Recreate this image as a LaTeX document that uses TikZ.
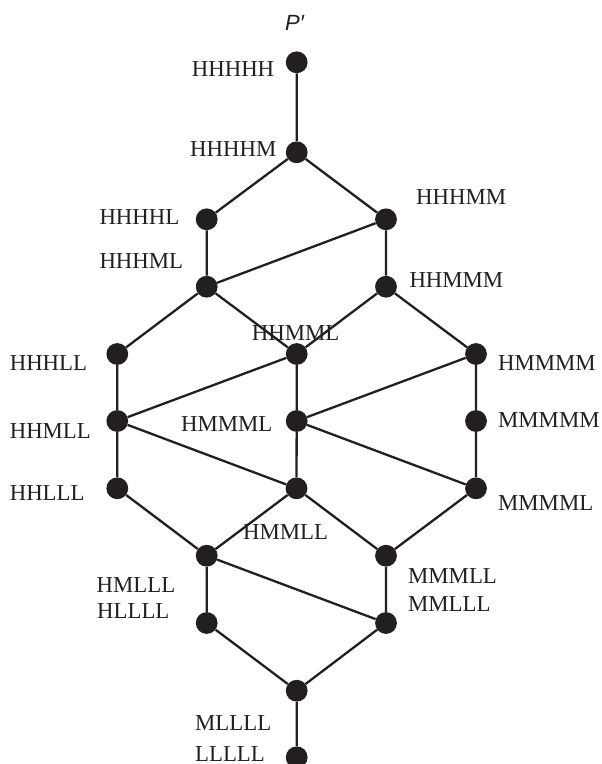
\documentclass[tikz,border=0pt]{standalone}
\usepackage{fontspec}
\setmainfont{Liberation Serif}
\newfontfamily\psans{Liberation Sans}
\definecolor{ink}{HTML}{231F20}
\begin{document}
\begin{tikzpicture}[x=1pt,y=-1pt,
  vtx/.style={circle,fill=ink,draw=none,minimum size=21.8pt,inner sep=0pt},
  lbl/.style={anchor=base west,inner sep=0pt,text=ink,font=\fontsize{22.8}{27}\selectfont},
  edge/.style={draw=ink,line width=2.3pt}]
\useasboundingbox (0,0) rectangle (602,764);
% vertices
\node[vtx] (a) at (296.7,62.3) {};
\node[vtx] (b) at (296.7,152.3) {};
\node[vtx] (c) at (206.7,219.3) {};
\node[vtx] (d) at (386,219.3) {};
\node[vtx] (e) at (206.7,286.7) {};
\node[vtx] (f) at (386,286.7) {};
\node[vtx] (g) at (117.3,354) {};
\node[vtx] (h) at (296.7,354) {};
\node[vtx] (i) at (476,354) {};
\node[vtx] (j) at (117.3,421) {};
\node[vtx] (k) at (296.7,421) {};
\node[vtx] (l) at (476,421) {};
\node[vtx] (m) at (117.3,488.3) {};
\node[vtx] (n) at (296.5,488.3) {};
\node[vtx] (o) at (476,488.3) {};
\node[vtx] (p) at (206.7,555.7) {};
\node[vtx] (q) at (386,555.7) {};
\node[vtx] (r) at (206.7,623) {};
\node[vtx] (s) at (386,623) {};
\node[vtx] (t) at (296.7,690.7) {};
\node[vtx] (u) at (296.7,757.3) {};
% edges
\path[edge] (a)--(b) (b)--(c) (b)--(d) (c)--(e) (d)--(f) (d)--(e)
  (e)--(g) (e)--(h) (f)--(h) (f)--(i)
  (g)--(j) (h)--(j) (h)--(k) (i)--(k) (i)--(l)
  (j)--(m) (j)--(n) (k)--(n) (k)--(o) (l)--(o)
  (m)--(p) (n)--(p) (n)--(q) (o)--(q)
  (p)--(r) (p)--(s) (q)--(s) (r)--(t) (s)--(t) (t)--(u);
% labels
\node[anchor=base west,inner sep=0pt,text=ink,font=\psans\itshape\fontsize{22}{26}\selectfont] (title) at (285,30.7) {P′};
\node[lbl] (la) at (191.7,76.7) {HHHHH};
\node[lbl] (lb) at (190,156.7) {HHHHM};
\node[lbl] (lc) at (99.3,224.3) {HHHHL};
\node[lbl] (ld) at (416,204) {HHHMM};
\node[lbl] (le) at (99.3,268.3) {HHHML};
\node[lbl] (lf) at (409.3,287.3) {HHMMM};
\node[lbl] (lh) at (251.7,340) {HHMML};
\node[lbl] (lg) at (9.6,370.7) {HHHLL};
\node[lbl] (li) at (498,370.7) {HMMMM};
\node[lbl] (lj) at (9.6,438.3) {HHMLL};
\node[lbl] (lk) at (181,431.7) {HMMML};
\node[lbl] (ll) at (498,427.3) {MMMMM};
\node[lbl] (lm) at (9.6,500) {HHLLL};
\node[lbl] (lo) at (498,510) {MMMML};
\node[lbl] (ln) at (243,539.3) {HMMLL};
\node[lbl] (lp) at (96.5,592.7) {HMLLL};
\node[lbl] (lr) at (97,618) {HLLLL};
\node[lbl] (lq) at (408,583.3) {MMMLL};
\node[lbl] (ls) at (408,611.7) {MMLLL};
\node[lbl] (lt) at (195,730.7) {MLLLL};
\node[lbl] (lu) at (195,761) {LLLLL};
\end{tikzpicture}
\end{document}
